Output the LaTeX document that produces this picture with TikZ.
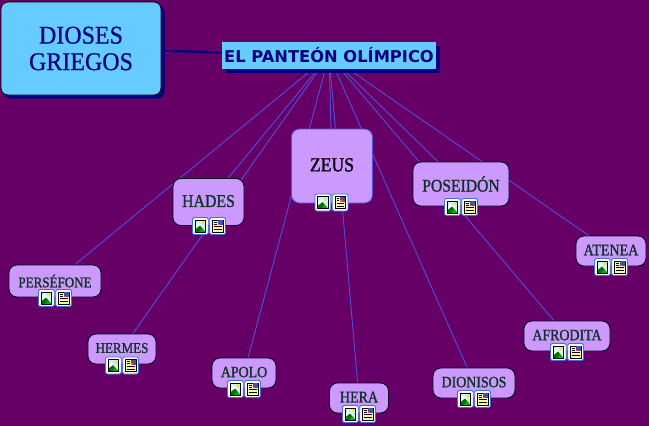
\documentclass[tikz,border=0pt]{standalone}
\usepackage{fontspec}
\setmainfont{Liberation Serif}
\newfontfamily\headfont{DejaVu Sans}
\newfontfamily\lblfont[FakeBold=1.2,FakeStretch=0.88]{Liberation Serif}
\newfontfamily\rootfont[FakeBold=0.5,FakeStretch=0.94]{Liberation Serif}
\usetikzlibrary{shadows,backgrounds}
\definecolor{bgp}{HTML}{660066}
\definecolor{lnk}{HTML}{5050DC}
\definecolor{sky}{HTML}{66CCFF}
\definecolor{navy}{HTML}{000080}
\definecolor{lil}{HTML}{CC99FF}
\definecolor{gtxt}{HTML}{0F3325}
\definecolor{iconedge}{HTML}{3F6FE0}
\definecolor{cream}{HTML}{FFF7B0}
\newcommand{\iconpair}[2]{%
 \begin{scope}[shift={(#1,#2)}]
  \fill[white,draw=iconedge,line width=.8pt,rounded corners=1.5pt] (-16.5,-8.5) rectangle (-.7,8.5);
  \fill[white,draw=iconedge,line width=.8pt,rounded corners=1.5pt] (.7,-8.5) rectangle (16.5,8.5);
  % picture icon
  \fill[cyan!18] (-14,-6) rectangle (-3.5,6);
  \fill[yellow!85!orange] (-6,-3.4) circle (1.7);
  \fill[white] (-14,1) -- (-10.5,-3) -- (-8,0) -- (-14,4) -- cycle;
  \fill[green!45!black] (-14,6) -- (-14,3.5) -- (-9,-.5) -- (-3.5,6) -- cycle;
  \fill[green!70!black] (-10,6) -- (-7,2.5) -- (-3.5,6) -- cycle;
  \draw[black,line width=.8pt] (-14,-6) rectangle (-3.5,6);
  % document icon
  \fill[cream,draw=black,line width=.7pt] (3.5,-6) rectangle (14,6);
  \fill[gray!60!blue] (8.5,-5.6) rectangle (13.6,-.8);
  \fill[orange!70!red] (8.8,-2.2) rectangle (11,-.8);
  \foreach \yy in {-4,-1.7} \draw[black,line width=.7pt] (5,\yy) -- (7.6,\yy);
  \foreach \yy in {.7,3.6} \draw[black,line width=.7pt] (5,\yy) -- (12.6,\yy);
 \end{scope}}
\tikzset{
  x=1pt,y=-1pt,
  link/.style={draw=lnk,line width=.9pt},
  concept/.style={draw=black!75!navy,line width=.8pt,fill=lil,rounded corners=8pt,inner sep=0pt,align=center,text=gtxt},
  rootbox/.style={draw=black,line width=.8pt,fill=sky,rounded corners=7pt,inner sep=0pt,align=center,text=navy,font=\rootfont\fontsize{25.5}{26.5}\selectfont,drop shadow={shadow xshift=3.5pt,shadow yshift=-3.5pt,fill=navy,opacity=1}},
  headbox/.style={fill=sky,inner sep=0pt,text=navy,font=\headfont\bfseries\fontsize{16.3}{18}\selectfont,drop shadow={shadow xshift=4pt,shadow yshift=-4pt,fill=navy,opacity=1}},
}
\begin{document}
\begin{tikzpicture}
\useasboundingbox (0,0) rectangle (649,426);
\node[rootbox,minimum width=160pt,minimum height=93pt] (root) at (81,48.5) {DIOSES\\GRIEGOS};
\node[headbox,minimum width=214pt,minimum height=27pt] (head) at (329,55.5) {EL PANTEÓN OLÍMPICO};
\node[concept,draw=lnk,text=black,minimum width=81pt,minimum height=74pt,font=\lblfont\fontsize{20}{20}\selectfont] (zeus) at (332,166) {\raisebox{2.5pt}{ZEUS}};
\node[concept,minimum width=71pt,minimum height=47pt,font=\lblfont\fontsize{18}{18}\selectfont] (hades) at (208.5,202) {\raisebox{2pt}{HADES}};
\node[concept,minimum width=96pt,minimum height=44pt,font=\lblfont\fontsize{17.8}{18}\selectfont] (pos) at (461,184) {POSEIDÓN};
\node[concept,minimum width=92pt,minimum height=32pt,font=\lblfont\fontsize{14.8}{15}\selectfont] (pers) at (55,281) {PERSÉFONE};
\node[concept,minimum width=68pt,minimum height=30pt,font=\lblfont\fontsize{14.8}{15}\selectfont] (herm) at (122,349) {\raisebox{2pt}{HERMES}};
\node[concept,minimum width=64pt,minimum height=30pt,font=\lblfont\fontsize{15.8}{15}\selectfont] (apo) at (244,373) {\raisebox{2pt}{APOLO}};
\node[concept,minimum width=59pt,minimum height=30pt,font=\lblfont\fontsize{16}{15}\selectfont] (hera) at (359,398) {\raisebox{2pt}{HERA}};
\node[concept,minimum width=82pt,minimum height=30pt,font=\lblfont\fontsize{15.8}{15}\selectfont] (dio) at (474,383) {\raisebox{2pt}{DIONISOS}};
\node[concept,minimum width=86pt,minimum height=30pt,font=\lblfont\fontsize{15.8}{15}\selectfont] (afro) at (567,336) {\raisebox{2pt}{AFRODITA}};
\node[concept,minimum width=70pt,minimum height=30pt,font=\lblfont\fontsize{16}{15}\selectfont] (ate) at (611,251) {\raisebox{2pt}{ATENEA}};
\begin{scope}[on background layer]
\fill[bgp] (0,0) rectangle (649,426);
\draw[navy,line width=2.4pt] (root.center) -- (head.center);
\foreach \t in {zeus,hades,pos,pers,herm,apo,hera,dio,afro,ate}
  \draw[link] (head.center) -- (\t.center);
\end{scope}
\iconpair{331.5}{202.5}
\iconpair{209}{226}
\iconpair{461}{207}
\iconpair{55}{298}
\iconpair{122}{365.5}
\iconpair{244}{389}
\iconpair{359}{414}
\iconpair{474}{399}
\iconpair{567}{352}
\iconpair{611}{267}
\end{tikzpicture}
\end{document}
